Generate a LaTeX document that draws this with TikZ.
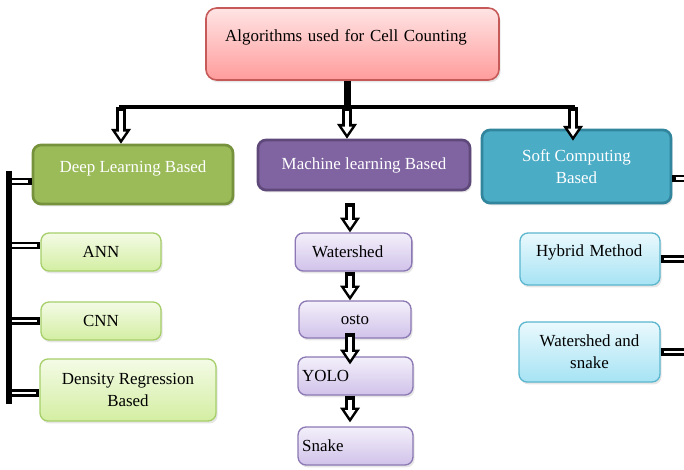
\documentclass[tikz,border=0pt]{standalone}
\usepackage{fontspec}
\setmainfont{Liberation Serif}
\usetikzlibrary{arrows.meta,shadows,calc}

\definecolor{roottop}{HTML}{FFE4E4}
\definecolor{rootbot}{HTML}{FF9C9C}
\definecolor{rootline}{HTML}{C55A58}
\definecolor{dlfill}{HTML}{9BBB59}
\definecolor{dlline}{HTML}{76923C}
\definecolor{mlfill}{HTML}{8064A2}
\definecolor{mlline}{HTML}{5F497A}
\definecolor{softfill}{HTML}{4BACC6}
\definecolor{softline}{HTML}{31859C}
\definecolor{greentop}{HTML}{F4FBE6}
\definecolor{greenbot}{HTML}{D3EEA2}
\definecolor{greenline}{HTML}{A6CF6A}
\definecolor{purpletop}{HTML}{F4F0FA}
\definecolor{purplebot}{HTML}{D0C2EA}
\definecolor{purpleline}{HTML}{8C78B4}
\definecolor{bluetop}{HTML}{EAF9FD}
\definecolor{bluebot}{HTML}{A6E3F4}
\definecolor{blueline}{HTML}{5BB6CE}

\begin{document}
\begin{tikzpicture}[x=0.75pt,y=-0.75pt,font=\fontsize{12.7}{16.3}\selectfont]
        \tikzstyle{box}=[rectangle,rounded corners=6pt,align=center,inner sep=3pt,
          drop shadow={opacity=0.2,shadow xshift=1.2pt,shadow yshift=-1.8pt}]
        \tikzstyle{head}=[box,line width=2pt,text=white]
        \tikzstyle{greenleaf}=[box,line width=1pt,draw=greenline,top color=greentop,bottom color=greenbot]
        \tikzstyle{purpleleaf}=[box,line width=1pt,draw=purpleline,top color=purpletop,bottom color=purplebot]
        \tikzstyle{blueleaf}=[box,line width=1pt,draw=blueline,top color=bluetop,bottom color=bluebot]
        \tikzstyle{lifted}=[text height=9pt,text depth=12.5pt]
        \tikzstyle{bus}=[draw=black,line width=3.5pt]
        \tikzstyle{hollow}=[draw=black,line width=7pt,-{Triangle[length=11pt,width=15pt,line width'=0pt]},
          postaction={draw=white,line width=3.2pt,shorten <=3pt,shorten >=3.37pt,
            -{Triangle[length=5.73pt,width=7.8pt,line width'=0pt]}}]
        \tikzstyle{stub}=[draw=black,line width=5.5pt,
          postaction={draw=white,line width=2pt,shorten <=2.5pt,shorten >=2.5pt}]

        \useasboundingbox (0,0) rectangle (684,470);

        \node [box,lifted,line width=1.2pt,draw=rootline,top color=roottop,bottom color=rootbot,
          rounded corners=8pt,minimum height=54pt,text width=191pt,inner xsep=14.4pt,align=left]
          (root) at (352.5,44) {Algorithms used for Cell Counting};

        \node [head,lifted,fill=dlfill,draw=dlline,minimum width=150pt,minimum height=44.25pt] (dl) at (133,174.5) {Deep Learning Based};
        \node [head,fill=mlfill,draw=mlline,minimum width=159pt,minimum height=37.5pt] (ml) at (364,165) {Machine learning Based};
        \node [head,fill=softfill,draw=softline,minimum width=141.75pt,minimum height=54.75pt] (soft) at (576.5,166.5) {Soft Computing\\Based};

        \node [greenleaf,minimum width=90pt,minimum height=28.5pt] (ann) at (101,252) {ANN};
        \node [greenleaf,minimum width=90pt,minimum height=28.5pt] (cnn) at (101,321) {CNN};
        \node [greenleaf,minimum width=132pt,minimum height=46.5pt] (dens) at (128,390) {Density Regression\\Based};

        \node [purpleleaf,minimum height=28.5pt,text width=62pt,inner xsep=12.75pt,align=left] (ws) at (353.5,252) {Watershed};
        \node [purpleleaf,minimum width=84pt,minimum height=27.75pt] (osto) at (355,319.5) {osto};
        \node [purpleleaf,minimum height=28.5pt,text width=80pt,inner xsep=3.1pt,align=left] (yolo) at (355.5,376) {YOLO};
        \node [purpleleaf,minimum height=28.5pt,text width=80pt,inner xsep=3.1pt,align=left] (snake) at (355.5,446) {Snake};

        \node [blueleaf,lifted,minimum height=39pt,text width=81pt,inner xsep=12pt,align=left] (hybrid) at (590,259) {Hybrid Method};
        \node [blueleaf,minimum width=105.75pt,minimum height=45pt] (wsnake) at (589.5,352) {Watershed and\\snake};

        % junction points of the black lines
        \coordinate (b1) at (121,107);
        \coordinate (b2) at (347,107);
        \coordinate (b3) at (573,107);
        \coordinate (mcol) at (350,0);
        \coordinate (ltop) at (9,171);
        \coordinate (lbot) at (9,404);
        \coordinate (rbus) at (694,0);

        \path[stub] (dl.184 -| ltop) -- (dl.184);
        \path[stub] (ann.174 -| ltop) -- (ann.174);
        \path[stub] (cnn.west -| ltop) -- (cnn.west);
        \path[stub] (dens.182 -| ltop) -- (dens.182);
        \path[stub] (soft.353) -- (soft.353 -| rbus);
        \path[stub] (hybrid.east) -- (hybrid.east -| rbus);
        \path[stub] (wsnake.east) -- (wsnake.east -| rbus);

        \path[bus,line width=5.25pt] (b2 |- root.south) -- (b2);
        \path[bus,line cap=rect] (b1) -- (b3);
        \path[bus,line width=4pt] (ltop) -- (lbot);

        \path[hollow] (b1) -- (b1 |- dl.north);
        \path[hollow] (b2) -- (b2 |- ml.north);
        \path[hollow] (b3) -- ($(b3 |- soft.north)+(0,12)$);

        \path[hollow] ($(ml.south -| mcol)+(0,12)$) -- (ws.north -| mcol);
        \path[hollow] (ws.south -| mcol) -- (osto.north -| mcol);
        \path[hollow] ($(osto.south -| mcol)+(0,-6)$) -- ($(yolo.north -| mcol)+(0,8)$);
        \path[hollow] (yolo.south -| mcol) -- ($(snake.north -| mcol)+(0,-4)$);
\end{tikzpicture}
\end{document}
